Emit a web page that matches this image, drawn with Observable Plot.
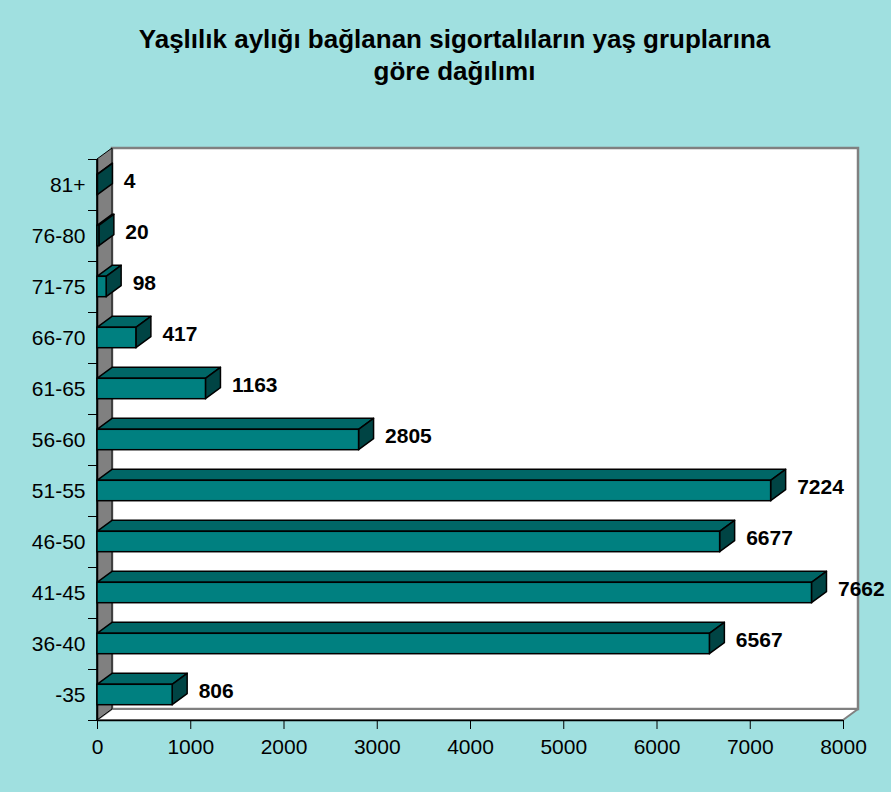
<!DOCTYPE html>
<html>
<head>
<meta charset="utf-8">
<script src="https://cdn.jsdelivr.net/npm/d3@7"></script>
<script src="https://cdn.jsdelivr.net/npm/@observablehq/plot@0.6"></script>
<style>
  html, body { margin: 0; padding: 0; background: #a0e0e0; width: 891px; height: 792px; overflow: hidden; }
  #title { box-sizing: border-box; height: 100px; padding-top: 23px; text-align: center;
    font-family: "Liberation Sans", Arial, sans-serif; font-weight: bold; font-size: 26px; line-height: 32px; color: #000; padding-left: 18px; }
</style>
</head>
<body>
<div id="title">Yaşlılık aylığı bağlanan sigortalıların yaş gruplarına<br>göre dağılımı</div>
<div id="chart"></div>
<script>
// Data (bottom to top)
const categories = ["-35", "36-40", "41-45", "46-50", "51-55", "56-60", "61-65", "66-70", "71-75", "76-80", "81+"];
const values = [806, 6567, 7662, 6677, 7224, 2805, 1163, 417, 98, 20, 4];
const xTicks = [0, 1000, 2000, 3000, 4000, 5000, 6000, 7000, 8000];
const xDomain = [0, 8000];

// Layout
const W = 891, H = 692;
const mL = 97, mR = 48, mT = 59, mB = 72;
const n = categories.length;
const depthPx = [15, 11];           // 3D offset in pixels
const dX = depthPx[0] * (xDomain[1] - xDomain[0]) / (W - mL - mR);
const dY = depthPx[1] * n / (H - mT - mB);
const barLo = 0.3, barHi = 0.7;

const rows = categories.map((c, i) => ({cat: c, i, v: values[i]}));

// Walls
const leftWall = [
  {id: 0, x1: xDomain[0], y1: 0, x2: xDomain[0], y2: n},
  {id: 0, x1: xDomain[0] + dX, y1: dY, x2: xDomain[0] + dX, y2: n + dY}
];
const floor = [
  {id: 0, x1: xDomain[0], y1: 0, x2: xDomain[0] + dX, y2: dY},
  {id: 0, x1: xDomain[1], y1: 0, x2: xDomain[1] + dX, y2: dY}
];
const backWall = [{x1: xDomain[0] + dX, x2: xDomain[1] + dX, y1: dY, y2: n + dY}];

// Bar faces
const topFaces = rows.flatMap(r => [
  {id: r.i, x1: 0, y1: r.i + barHi, x2: dX, y2: r.i + barHi + dY},
  {id: r.i, x1: r.v, y1: r.i + barHi, x2: r.v + dX, y2: r.i + barHi + dY}
]);
const sideFaces = rows.flatMap(r => [
  {id: r.i, x1: r.v, y1: r.i + barLo, x2: r.v, y2: r.i + barHi},
  {id: r.i, x1: r.v + dX, y1: r.i + barLo + dY, x2: r.v + dX, y2: r.i + barHi + dY}
]);

const boundaries = d3.range(0, n + 1);
const centers = d3.range(0, n).map(i => i + 0.5);

const chart = Plot.plot({
  width: W, height: H,
  marginLeft: mL, marginRight: mR, marginTop: mT, marginBottom: mB,
  style: {background: "transparent", overflow: "visible", fontFamily: "'Liberation Sans', Arial, sans-serif", color: "#000"},
  x: {domain: xDomain},
  y: {domain: [0, n]},
  marks: [
    Plot.rect(backWall, {x1: "x1", x2: "x2", y1: "y1", y2: "y2", fill: "white", stroke: "#808080", strokeWidth: 2.5}),
    Plot.area(floor, {x1: "x1", y1: "y1", x2: "x2", y2: "y2", z: "id", fill: "white", stroke: "#808080", strokeWidth: 2}),
    Plot.area(leftWall, {x1: "x1", y1: "y1", x2: "x2", y2: "y2", z: "id", fill: "#808080", stroke: "#000", strokeWidth: 1}),
    Plot.ruleY([0], {stroke: "#000", strokeWidth: 1.5}),
    Plot.ruleX([0], {stroke: "#000", strokeWidth: 1.5}),
    Plot.area(topFaces, {x1: "x1", y1: "y1", x2: "x2", y2: "y2", z: "id", fill: "#006666", stroke: "#000", strokeWidth: 1.5}),
    Plot.area(sideFaces, {x1: "x1", y1: "y1", x2: "x2", y2: "y2", z: "id", fill: "#004444", stroke: "#000", strokeWidth: 1.5}),
    Plot.rect(rows, {x1: 0, x2: "v", y1: d => d.i + barLo, y2: d => d.i + barHi, fill: "#008080", stroke: "#000", strokeWidth: 1.5}),
    Plot.text(rows, {x: "v", y: d => d.i + 0.5, text: d => String(d.v), textAnchor: "start", dx: 26, dy: -4,
      fontSize: 21, fontWeight: "bold", fill: "#000"}),
    Plot.axisX(xTicks, {anchor: "bottom", tickSize: 9, tickPadding: 10, fontSize: 21, label: null, stroke: "#000", fill: "#000",
      tickFormat: d => String(d)}),
    Plot.axisY(boundaries, {anchor: "left", tickSize: 9, tickFormat: () => "", label: null, stroke: "#000"}),
    Plot.axisY(centers, {anchor: "left", tickSize: 0, tickPadding: 12, fontSize: 21, label: null, fill: "#000",
      tickFormat: d => categories[Math.floor(d)]})
  ]
});
document.getElementById("chart").appendChild(chart);
</script>
</body>
</html>
